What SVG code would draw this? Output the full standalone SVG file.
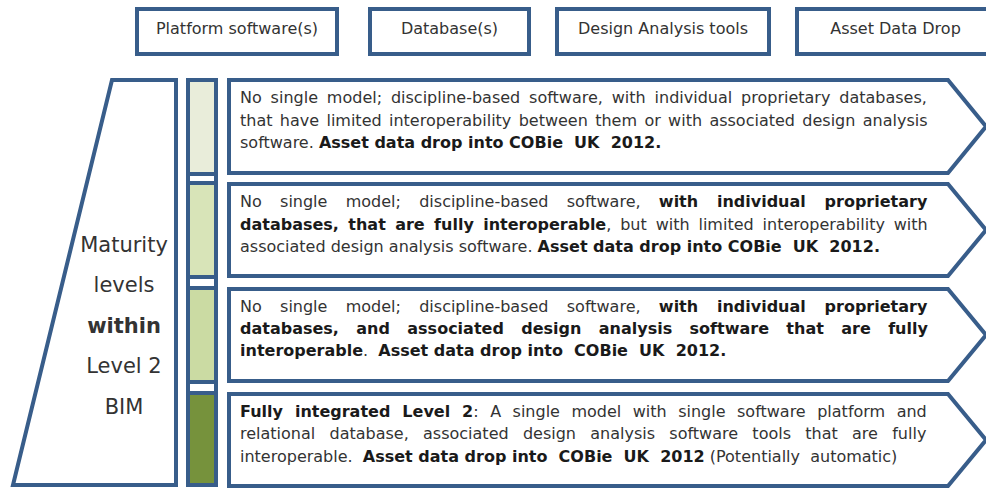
<svg xmlns="http://www.w3.org/2000/svg" width="986" height="489" viewBox="0 0 986 489">
<style>
.box{fill:#fff;stroke:#385d8a;stroke-width:4;}
.t{font-family:"DejaVu Sans",Verdana,sans-serif;font-size:16px;fill:#333;}
.b{font-weight:bold;fill:#1a1a1a;}
.lbl{font-family:"DejaVu Sans",Verdana,sans-serif;font-size:21px;fill:#333;text-anchor:middle;}
.hd{font-family:"DejaVu Sans",Verdana,sans-serif;font-size:16px;fill:#333;text-anchor:middle;}
.seg{stroke:#385d8a;stroke-width:4;}
</style>
<rect width="986" height="489" fill="#fff"/>

<g id="hdr-platform">
<rect class="box" x="137" y="9" width="200" height="45"/>
<text class="hd" x="237" y="34">Platform software(s)</text>
</g>
<g id="hdr-database">
<rect class="box" x="370" y="9" width="159" height="45"/>
<text class="hd" x="449.5" y="34">Database(s)</text>
</g>
<g id="hdr-design">
<rect class="box" x="557" y="9" width="212" height="45"/>
<text class="hd" x="663" y="34">Design Analysis tools</text>
</g>
<g id="hdr-asset">
<rect class="box" x="797" y="9" width="197" height="45"/>
<text class="hd" x="895.5" y="34">Asset Data Drop</text>
</g>

<g id="maturity">
<path class="box" d="M112,80 L176,80 L176,485 L13,485 Z"/>
<text class="lbl" x="124" y="252">Maturity</text>
<text class="lbl" x="124" y="292">levels</text>
<text class="lbl" x="124" y="333" font-weight="bold" fill="#1a1a1a">within</text>
<text class="lbl" x="124" y="373">Level 2</text>
<text class="lbl" x="124" y="414">BIM</text>
</g>

<g id="levelbar">
<rect class="box" x="188" y="80" width="28" height="405"/>
<rect class="seg" x="188" y="80" width="28" height="94" fill="#e9edda"/>
<rect class="seg" x="188" y="183" width="28" height="94" fill="#d8e4b8"/>
<rect class="seg" x="188" y="288" width="28" height="94" fill="#cbdba3"/>
<rect class="seg" x="188" y="393" width="28" height="92" fill="#76923c"/>
</g>

<g id="level-a">
<path class="box" d="M229,80 L948,80 L986,126.5 L948,173 L229,173 Z"/>
<text class="t" x="240" y="103" word-spacing="3.78">No single model; discipline-based software, with individual proprietary databases,</text>
<text class="t" x="240" y="125.5" word-spacing="2.26">that have limited interoperability between them or with associated design analysis</text>
<text class="t" x="240" y="148">software. <tspan class="b">Asset data drop into COBie&#160; UK&#160; 2012.</tspan></text>
</g>

<g id="level-b">
<path class="box" d="M229,184 L948,184 L986,230 L948,276 L229,276 Z"/>
<text class="t" x="240" y="207" word-spacing="13.2">No single model; discipline-based software, <tspan class="b">with individual proprietary</tspan></text>
<text class="t" x="240" y="229.5" word-spacing="3.8"><tspan class="b">databases, that are fully interoperable</tspan>, but with limited interoperability with</text>
<text class="t" x="240" y="252">associated design analysis software. <tspan class="b">Asset data drop into COBie&#160; UK&#160; 2012.</tspan></text>
</g>

<g id="level-c">
<path class="box" d="M229,289 L948,289 L986,335 L948,381 L229,381 Z"/>
<text class="t" x="240" y="312" word-spacing="13.2">No single model; discipline-based software, <tspan class="b">with individual proprietary</tspan></text>
<text class="t b" x="240" y="334" word-spacing="11.8">databases, and associated design analysis software that are fully</text>
<text class="t" x="240" y="356"><tspan class="b">interoperable</tspan>.&#160; <tspan class="b">Asset data drop into&#160; COBie&#160; UK&#160; 2012.</tspan></text>
</g>

<g id="level-d">
<path class="box" d="M229,394 L948,394 L986,440 L948,486 L229,486 Z"/>
<text class="t" x="240" y="417" word-spacing="6.4"><tspan class="b">Fully integrated Level 2</tspan>: A single model with single software platform and</text>
<text class="t" x="240" y="439" word-spacing="9.2">relational database, associated design analysis software tools that are fully</text>
<text class="t" x="240" y="462">interoperable.&#160; <tspan class="b">Asset data drop into&#160; COBie&#160; UK&#160; 2012</tspan> (Potentially&#160; automatic)</text>
</g>
</svg>
